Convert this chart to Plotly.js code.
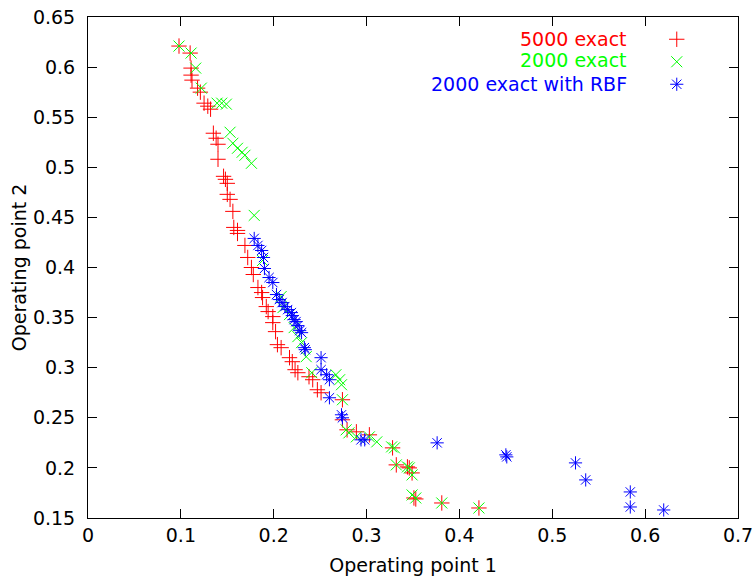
<!DOCTYPE html>
<html>
<head>
<meta charset="utf-8">
<script src="https://cdn.plot.ly/plotly-3.0.1.min.js"></script>
<style>html,body{margin:0;padding:0;background:#fff;}#chart{width:755px;height:581px;}</style>
</head>
<body>
<div id="chart"></div>
<script>
// Series names
const seriesNames = ["5000 exact", "2000 exact", "2000 exact with RBF"];

// 5000 exact
const x5000 = [0.098,0.110,0.111,0.111,0.112,0.118,0.121,0.125,0.129,0.132,0.135,0.138,0.140,0.140,0.146,0.148,0.150,0.150,0.153,0.156,0.157,0.161,0.161,0.169,0.172,0.176,0.178,0.183,0.187,0.188,0.192,0.194,0.199,0.199,0.202,0.204,0.208,0.217,0.220,0.223,0.226,0.238,0.242,0.247,0.251,0.274,0.274,0.279,0.289,0.303,0.328,0.332,0.344,0.346,0.349,0.351,0.353,0.381,0.421];
const y5000 = [0.621,0.614,0.599,0.592,0.587,0.579,0.575,0.564,0.561,0.558,0.534,0.529,0.523,0.508,0.491,0.488,0.484,0.473,0.468,0.456,0.440,0.437,0.434,0.422,0.410,0.400,0.393,0.380,0.375,0.370,0.361,0.356,0.351,0.345,0.336,0.323,0.320,0.310,0.306,0.298,0.295,0.291,0.288,0.278,0.275,0.268,0.248,0.238,0.236,0.233,0.220,0.203,0.201,0.200,0.195,0.170,0.169,0.165,0.160];

// 2000 exact
const x2000 = [0.098,0.111,0.116,0.122,0.139,0.144,0.149,0.153,0.156,0.161,0.166,0.169,0.176,0.179,0.188,0.208,0.210,0.217,0.222,0.226,0.230,0.235,0.241,0.267,0.271,0.273,0.274,0.278,0.281,0.289,0.303,0.311,0.327,0.330,0.332,0.344,0.346,0.349,0.349,0.353,0.381,0.421];
const y2000 = [0.621,0.614,0.599,0.579,0.564,0.564,0.563,0.535,0.524,0.519,0.515,0.512,0.504,0.452,0.407,0.371,0.360,0.353,0.340,0.331,0.325,0.311,0.295,0.293,0.288,0.283,0.268,0.238,0.235,0.231,0.231,0.226,0.221,0.220,0.203,0.201,0.200,0.193,0.173,0.170,0.165,0.160];

// 2000 exact with RBF
const xRBF = [0.179,0.183,0.187,0.189,0.190,0.195,0.199,0.203,0.206,0.209,0.212,0.215,0.219,0.220,0.222,0.224,0.226,0.228,0.230,0.233,0.234,0.251,0.251,0.257,0.260,0.260,0.273,0.274,0.294,0.298,0.376,0.450,0.451,0.525,0.536,0.584,0.584,0.620];
const yRBF = [0.429,0.422,0.417,0.410,0.399,0.390,0.385,0.373,0.368,0.365,0.361,0.358,0.355,0.352,0.348,0.346,0.342,0.337,0.335,0.320,0.318,0.310,0.298,0.293,0.288,0.270,0.253,0.250,0.228,0.228,0.225,0.213,0.211,0.205,0.188,0.176,0.161,0.158];

const colors = ["#ff0000", "#00ff00", "#0000ff"];
const symbols = ["cross-thin-open", "x-thin-open", "asterisk-open"];
const xs = [x5000, x2000, xRBF];
const ys = [y5000, y2000, yRBF];

const FONT = "DejaVu Sans, Liberation Sans, Arial, sans-serif";
const traces = [];
for (let i = 0; i < 3; i++) {
  traces.push({
    type: "scatter", mode: "markers", x: xs[i], y: ys[i], name: seriesNames[i],
    showlegend: false,
    marker: {symbol: symbols[i], size: 11, color: colors[i], line: {color: colors[i], width: 1}}
  });
}
// legend keys (no data, symbols only)
for (let i = 0; i < 3; i++) {
  traces.push({
    type: "scatter", mode: "markers", x: [null], y: [null], name: " ",
    showlegend: true, hoverinfo: "skip",
    marker: {symbol: symbols[i], size: 11, color: colors[i], line: {color: colors[i], width: 1}}
  });
}

const legendY = [0.957, 0.914, 0.866];
const annotations = seriesNames.map((n, i) => ({
  xref: "paper", yref: "paper", x: 0.833, y: legendY[i], xanchor: "right", yanchor: "middle",
  text: n, showarrow: false, font: {family: FONT, size: 19, color: colors[i]}
}));

const axisCommon = {
  showline: true, linecolor: "#000", linewidth: 1, mirror: "ticks",
  ticks: "inside", ticklen: 9, tickwidth: 1, tickcolor: "#000",
  showgrid: false, zeroline: false,
  tickfont: {family: FONT, size: 19, color: "#000"}
};

const layout = {
  width: 755, height: 581,
  margin: {l: 88, r: 17, t: 17, b: 63},
  paper_bgcolor: "#fff", plot_bgcolor: "#fff",
  font: {family: FONT, size: 19, color: "#000"},
  xaxis: Object.assign({}, axisCommon, {
    range: [0, 0.7], dtick: 0.1, tick0: 0, ticklabelstandoff: 0,
    title: {text: "Operating point 1", font: {family: FONT, size: 19, color: "#000"}, standoff: 13}
  }),
  yaxis: Object.assign({}, axisCommon, {
    range: [0.15, 0.65], dtick: 0.05, tick0: 0.15, ticklabelstandoff: 8,
    title: {text: "Operating point 2", font: {family: FONT, size: 19, color: "#000"}, standoff: 1}
  }),
  showlegend: true,
  legend: {x: 0.875, y: 0.988, xanchor: "left", yanchor: "top", bgcolor: "rgba(0,0,0,0)",
           borderwidth: 0, font: {family: FONT, size: 15}, tracegroupgap: 0, itemwidth: 30},
  annotations: annotations
};

Plotly.newPlot("chart", traces, layout, {displayModeBar: false, staticPlot: true});
</script>
</body>
</html>
